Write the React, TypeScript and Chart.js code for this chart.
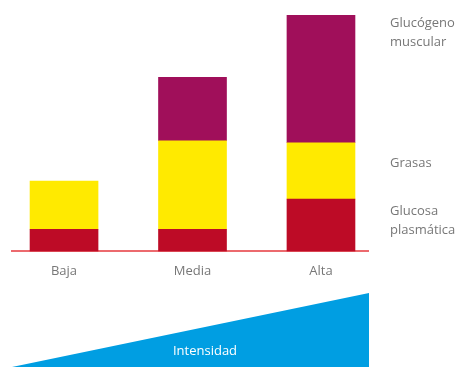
import React, { useEffect, useRef } from "react";
import { Chart, registerables } from "chart.js";

Chart.register(...registerables);

const categories = ["Baja", "Media", "Alta"];
const glucosaPlasmatica = [22, 22, 52];
const grasas = [48, 88, 56];
const glucogenoMuscular = [0, 63, 127];
const seriesLabels = ["Glucosa\nplasmática", "Grasas", "Glucógeno\nmuscular"];
const intensidadLabel = "Intensidad";
const intensidad = [0, 1];

const FONT = "'Open Sans', 'DejaVu Sans', sans-serif";
const TEXT_GRAY = "#777777";

const toPoints = (vals: number[]) =>
  vals.map((v, i) => ({ x: i, y: v === 0 ? null : v }));

export default function App() {
  const barRef = useRef<HTMLCanvasElement>(null);
  const triRef = useRef<HTMLCanvasElement>(null);

  useEffect(() => {
    const sideLabels = {
      id: "sideLabels",
      afterDraw(chart: any) {
        const ctx = chart.ctx;
        const ys = [211, 163, 23];
        ctx.save();
        ctx.fillStyle = TEXT_GRAY;
        ctx.font = `13px ${FONT}`;
        ctx.textAlign = "left";
        ctx.textBaseline = "middle";
        chart.data.datasets.forEach((ds: any, i: number) => {
          const lines = String(ds.label).split("\n");
          lines.forEach((ln: string, j: number) => {
            ctx.fillText(ln, 390, ys[i] + j * 19);
          });
        });
        ctx.restore();
      },
    };

    const bar = new Chart(barRef.current!, {
      type: "bar",
      data: {
        datasets: [
          {
            label: seriesLabels[0],
            data: toPoints(glucosaPlasmatica) as any,
            backgroundColor: "#bd0b26",
            stack: "s",
          },
          {
            label: seriesLabels[1],
            data: toPoints(grasas) as any,
            backgroundColor: "#ffea00",
            stack: "s",
          },
          {
            label: seriesLabels[2],
            data: toPoints(glucogenoMuscular) as any,
            backgroundColor: "#a00f5a",
            stack: "s",
          },
        ],
      },
      options: {
        animation: false,
        responsive: false,
        maintainAspectRatio: false,
        layout: { padding: { left: 12, right: 101, top: 15, bottom: 0 } },
        plugins: { legend: { display: false }, tooltip: { enabled: false } },
        scales: {
          x: {
            type: "linear",
            min: -0.405,
            max: 2.366,
            offset: false,
            stacked: true,
            grid: { display: false, drawTicks: false },
            border: { display: true, color: "#ec6a6e", width: 2 },
            afterBuildTicks: (axis: any) => {
              axis.ticks = categories.map((_, i) => ({ value: i }));
            },
            ticks: {
              padding: 12,
              color: TEXT_GRAY,
              font: { family: FONT, size: 13 },
              callback: (v: any) => categories[Number(v)] ?? "",
            },
          },
          y: {
            display: false,
            stacked: true,
            min: 0,
            max: 235,
          },
        },
        datasets: { bar: { barThickness: 68 } } as any,
      },
      plugins: [sideLabels],
    });

    const triLabel = {
      id: "triLabel",
      afterDraw(chart: any) {
        const ctx = chart.ctx;
        ctx.save();
        ctx.fillStyle = "#ffffff";
        ctx.font = `13px ${FONT}`;
        ctx.textAlign = "center";
        ctx.textBaseline = "middle";
        ctx.fillText(intensidadLabel, 205, 58);
        ctx.restore();
      },
    };

    const tri = new Chart(triRef.current!, {
      type: "line",
      data: {
        datasets: [
          {
            label: intensidadLabel,
            data: intensidad.map((v, i) => ({ x: i, y: v })),
            borderWidth: 0,
            pointRadius: 0,
            backgroundColor: "#009ee2",
            borderColor: "#009ee2",
            fill: "start",
            tension: 0,
          },
        ],
      },
      options: {
        animation: false,
        responsive: false,
        maintainAspectRatio: false,
        layout: { padding: { left: 12, right: 100, top: 0, bottom: 0 } },
        plugins: { legend: { display: false }, tooltip: { enabled: false } },
        scales: {
          x: { type: "linear", min: 0, max: 1, display: false },
          y: { min: 0, max: 1, display: false },
        },
      },
      plugins: [triLabel],
    });

    return () => {
      bar.destroy();
      tri.destroy();
    };
  }, []);

  return (
    <div style={{ position: "fixed", left: 0, top: 0, width: 469, height: 367, background: "#fff" }}>
      <canvas
        ref={barRef}
        width={469}
        height={291}
        style={{ position: "absolute", left: 0, top: 0, width: 469, height: 291 }}
      />
      <canvas
        ref={triRef}
        width={469}
        height={74}
        style={{ position: "absolute", left: 0, top: 293, width: 469, height: 74 }}
      />
    </div>
  );
}
